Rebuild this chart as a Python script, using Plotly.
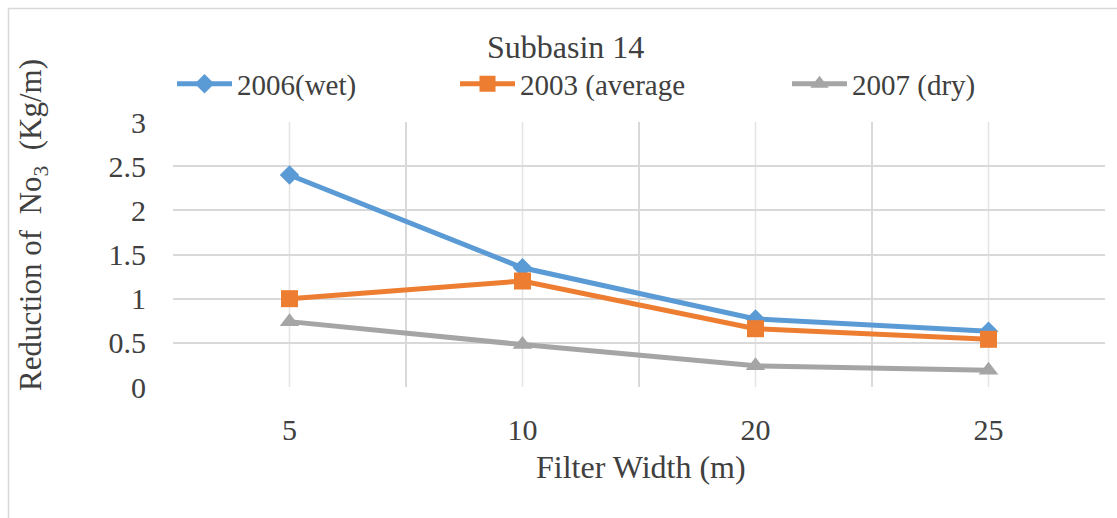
import plotly.graph_objects as go

# Filter widths (m) on the category axis
widths = ["5", "10", "20", "25"]

# NO3 reduction (Kg/m) per year
wet_2006 = [2.40, 1.35, 0.77, 0.63]
avg_2003 = [1.00, 1.20, 0.66, 0.54]
dry_2007 = [0.74, 0.48, 0.24, 0.19]

y_ticks = [0, 0.5, 1, 1.5, 2, 2.5, 3]
y_tick_text = ["0", "0.5", "1", "1.5", "2", "2.5", "3"]

FONT = "Liberation Serif"
TXT = "#404040"
GRID = "#d9d9d9"

W, H = 1117, 518
L, R, T, B = 173, 12, 122, 131
pw, ph = W - L - R, H - T - B


def px_x(px):
    return (px - L) / pw


def px_y(py):
    return (H - B - py) / ph


series = [
    ("2006(wet)", wet_2006, "#5B9BD5", "diamond", 15, None),
    ("2003 (average", avg_2003, "#ED7D31", "square", 17, "legend2"),
    ("2007 (dry)", dry_2007, "#A5A5A5", "triangle-up", 17, "legend3"),
]

fig = go.Figure()
for name, vals, color, sym, size, leg in series:
    tr = go.Scatter(
        x=widths, y=vals, name=name, mode="lines+markers",
        line=dict(color=color, width=5),
        marker=dict(symbol=sym, size=size, color=color),
    )
    if leg:
        tr.legend = leg
    fig.add_trace(tr)

# light gridlines through each category centre (category index positions)
for i, _ in enumerate(widths):
    fig.add_shape(type="line", xref="x", yref="paper", x0=i, x1=i, y0=0, y1=1,
                  line=dict(color="#e4e4e4", width=1.5), layer="between")

# outer chart frame (top and left edges)
fig.add_shape(type="line", xref="paper", yref="paper",
              x0=px_x(8), x1=px_x(1125), y0=px_y(8.5), y1=px_y(8.5),
              line=dict(color=GRID, width=1.5))
fig.add_shape(type="line", xref="paper", yref="paper",
              x0=px_x(8.5), x1=px_x(8.5), y0=px_y(8), y1=px_y(530),
              line=dict(color=GRID, width=1.5))

legend_common = dict(orientation="h", xanchor="left", yanchor="middle",
                     font=dict(family=FONT, size=29, color=TXT),
                     bgcolor="rgba(0,0,0,0)", itemwidth=55)

fig.update_layout(
    width=W, height=H,
    margin=dict(l=L, r=R, t=T, b=B),
    paper_bgcolor="white", plot_bgcolor="white",
    font=dict(family=FONT, size=30, color=TXT),
    showlegend=True,
    legend=dict(x=px_x(172), y=px_y(84), **legend_common),
    legend2=dict(x=px_x(455), y=px_y(84), **legend_common),
    legend3=dict(x=px_x(787), y=px_y(84), **legend_common),
    xaxis=dict(
        type="category", range=[-0.5, 3.5], tickson="boundaries",
        showgrid=True, gridcolor=GRID, gridwidth=2,
        ticks="", showline=False, zeroline=False,
        tickfont=dict(family=FONT, size=30, color=TXT),
        ticklabelstandoff=22,
    ),
    yaxis=dict(
        range=[0, 3], tickvals=y_ticks, ticktext=y_tick_text,
        showgrid=True, gridcolor=GRID, gridwidth=2,
        zeroline=False, showline=False, ticks="",
        tickfont=dict(family=FONT, size=30, color=TXT),
        ticklabelstandoff=26,
    ),
    annotations=[
        dict(text="Subbasin 14", xref="paper", yref="paper",
             x=px_x(565), y=px_y(47), xanchor="center", yanchor="middle",
             showarrow=False, font=dict(family=FONT, size=32, color=TXT)),
        dict(text="Filter Width (m)", xref="paper", yref="paper",
             x=px_x(641), y=px_y(467), xanchor="center", yanchor="middle",
             showarrow=False, font=dict(family=FONT, size=32, color=TXT)),
        dict(text="Reduction of  No<sub>3</sub>  (Kg/m)", xref="paper", yref="paper",
             x=px_x(33), y=px_y(225), xanchor="center", yanchor="middle",
             textangle=-90, showarrow=False,
             font=dict(family=FONT, size=31, color=TXT)),
    ],
)

fig.write_html("out.html")
